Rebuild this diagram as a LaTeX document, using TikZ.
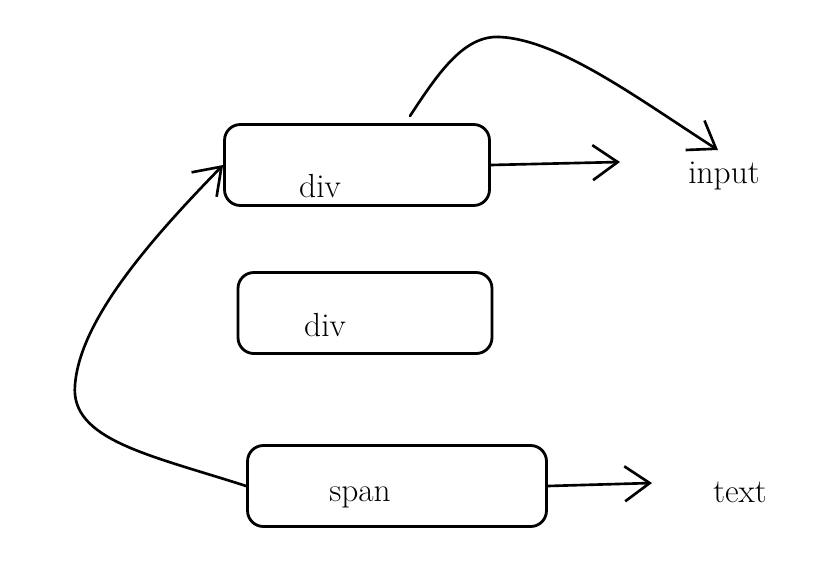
\documentclass[tikz,border=0pt]{standalone}
\usepackage{tikz}
\usetikzlibrary{positioning, arrows.meta}

\tikzset{
  tag/.style={draw, line width=1.6pt, rounded corners=9pt, minimum height=1.62cm},
  word/.style={font=\fontsize{19}{22}\selectfont},
  link/.style={->, line width=1.5pt, line cap=round},
}

\begin{document}
\begin{tikzpicture}[x=0.02cm, y=-0.02cm, >={Straight Barb[length=5mm, width=7mm, line width=1.5pt]}]
        \useasboundingbox (0,0) rectangle (838,575);
        \node[tag, minimum width=5.3cm] (top) at (357,165) {};
        \node[tag, minimum width=5.08cm] (mid) at (365,313) {};
        \node[tag, minimum width=5.98cm] (low) at (397,486) {};
        \node[word] (topdiv) at (320,186) {div};
        \node[word] (middiv) at (325,325) {div};
        \node[word] (span) at (360,497) {span};
        \node[word] (input) at (724,176) {input};
        \node[word] (text) at (740,492) {text};
        \coordinate (a) at (620,162);
        \coordinate (b) at (652,483);
        \draw[link] (top.east) -- (a);
        \draw[link] (low.east) -- (b);
        \draw[link] (410,116) .. controls (440,70) and (465,35) .. (500,37)
          .. controls (560,40) and (640,100) .. (718,150);
        \draw[link] (low.west) .. controls (150,455) and (70,440) .. (75,385)
          .. controls (80,320) and (150,240) .. (top.west);
      \end{tikzpicture}
\end{document}
